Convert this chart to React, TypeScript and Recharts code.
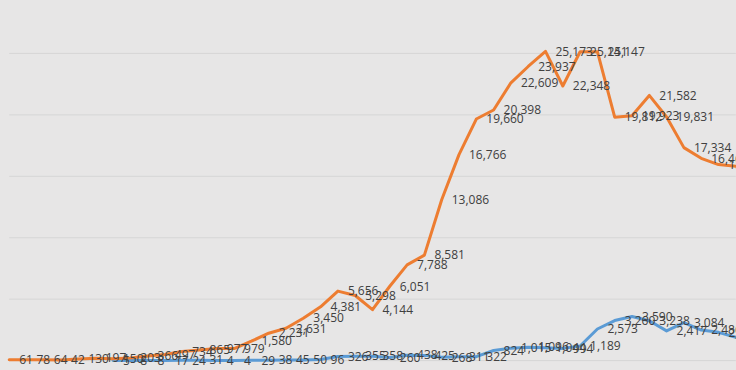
import React from "react";
import {
  LineChart,
  Line,
  XAxis,
  YAxis,
  CartesianGrid,
  LabelList,
} from "recharts";

// day index along the x axis (the real labels are cropped off below the picture)
const days = [
  "1", "2", "3", "4", "5", "6", "7", "8", "9", "10",
  "11", "12", "13", "14", "15", "16", "17", "18", "19", "20",
  "21", "22", "23", "24", "25", "26", "27", "28", "29", "30",
  "31", "32", "33", "34", "35", "36", "37", "38", "39", "40",
  "41", "42", "43",
];

const orangeSeries = [
  61, 78, 64, 42, 130, 197, 150, 203, 366, 497,
  734, 865, 977, 979, 1580, 2231, 2631, 3450, 4381, 5656,
  5298, 4144, 6051, 7788, 8581, 13086, 16766, 19660, 20398, 22609,
  23937, 25173, 22348, 25141, 25147, 19812, 19923, 21582, 19831, 17334,
  16466, 15952, 15810,
];

const blueSeries = [
  null, null, null, null, null, null, 5, 8, 8, 17,
  24, 31, 4, 4, 29, 38, 45, 50, 96, 326,
  355, 358, 260, 438, 425, 268, 311, 322, 824, 1015,
  1096, 1044, 994, 1189, 2573, 3260, 3590, 3238, 2417, 3084,
  2486, 2300, 1900,
];

const yTicks = [0, 5000, 10000, 15000, 20000, 25000, 30000];

const rows = days.map((d, i) => ({
  day: d,
  blue: blueSeries[i],
  orange: orangeSeries[i],
}));

const fmt = (v: any) =>
  v === null || v === undefined ? "" : Number(v).toLocaleString("en-US");

export default function App() {
  return (
    <div
      style={{
        position: "absolute",
        left: 0,
        top: 0,
        width: 736,
        height: 370,
        overflow: "hidden",
        background: "#e7e6e6",
        fontFamily: "'Open Sans', sans-serif",
      }}
    >
      <div style={{ position: "absolute", left: 0, top: -8 }}>
        <LineChart
          width={736}
          height={400}
          data={rows}
          margin={{ top: 0, right: 0.2, left: 9.2, bottom: 0 }}
        >
          <CartesianGrid vertical={false} stroke="#d6d6d6" />
          <XAxis
            dataKey="day"
            height={31.4}
            interval={0}
            axisLine={false}
            tickSize={10}
            tickLine={{ stroke: "#5a5a5a", strokeWidth: 5, strokeDasharray: "4 20" }}
            tick={false}
          />
          <YAxis hide domain={[0, 30000]} ticks={yTicks} />
          <Line
            type="linear"
            dataKey="blue"
            stroke="#5b9bd5"
            strokeWidth={3}
            strokeLinejoin="round"
            strokeLinecap="round"
            dot={false}
            isAnimationActive={false}
          >
            <LabelList
              dataKey="blue"
              position="right"
              offset={10}
              formatter={fmt}
              fill="#404040"
              fontSize={12}
            />
          </Line>
          <Line
            type="linear"
            dataKey="orange"
            stroke="#ed7d31"
            strokeWidth={3}
            strokeLinejoin="round"
            strokeLinecap="round"
            dot={false}
            isAnimationActive={false}
          >
            <LabelList
              dataKey="orange"
              position="right"
              offset={10}
              formatter={fmt}
              fill="#404040"
              fontSize={12}
            />
          </Line>
        </LineChart>
      </div>
    </div>
  );
}
